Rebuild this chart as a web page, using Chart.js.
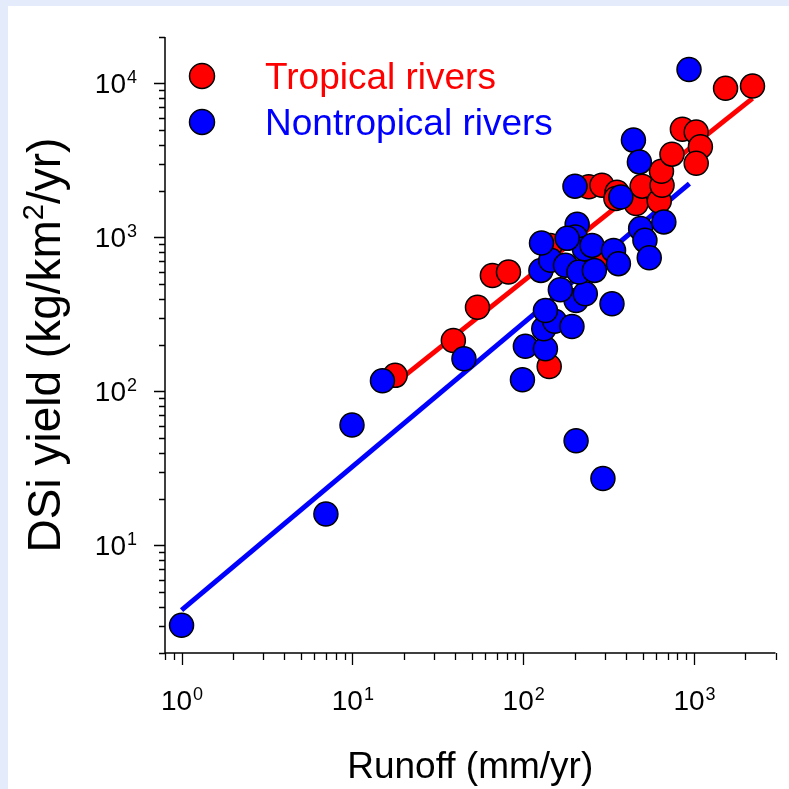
<!DOCTYPE html>
<html>
<head>
<meta charset="utf-8">
<title>DSi yield vs runoff</title>
<script src="https://cdn.jsdelivr.net/npm/chart.js@4.4.1/dist/chart.umd.min.js"></script>
<style>
  html, body { margin: 0; padding: 0; background: #e4ecfb; overflow: hidden; }
  canvas { display: block; }
</style>
</head>
<body>
<canvas id="chart" width="789" height="789"></canvas>
<script>
// values: runoff (mm/yr) and DSi yield (kg/km2/yr)
const tropicalRunoff = [17.8, 39, 54, 66, 82, 142, 144, 278, 242, 289, 354, 349, 458, 497, 626, 650, 645, 743, 855, 1030, 1090, 1030, 1530, 2200];
const tropicalYield = [127, 214, 352, 566, 595, 145, 887, 752, 2130, 2180, 1960, 1790, 1660, 2150, 1720, 2180, 2690, 3470, 5040, 4840, 3880, 3030, 9280, 9600];

const nontropicalRunoff = [1.0, 7.0, 9.95, 15, 45, 99, 103, 135, 132, 153, 193, 135, 204, 293, 204, 231, 331, 165, 127, 145, 177, 212, 261, 128, 207, 202, 228, 253, 338, 361, 201, 373, 442, 479, 935, 487, 516, 547, 666, 181];
const nontropicalYield = [3.03, 16.0, 60.4, 117, 163, 119, 196, 189, 255, 285, 264, 335, 47.8, 27.2, 389, 430, 370, 457, 610, 709, 658, 595, 610, 918, 1215, 1005, 844, 887, 823, 675, 2150, 1830, 4280, 3090, 12300, 1140, 956, 738, 1260, 985];

// fitted lines (end points)
const tropicalFitRunoff = [18, 2200];
const tropicalFitYield = [114, 7990];
const nontropicalFitRunoff = [1, 940];
const nontropicalFitYield = [3.8, 2236];

// axis ranges and labelled decades
const xRange = [0.8, 3000];
const yRange = [2, 20000];
const xMajor = [1, 10, 100, 1000];
const xExp = ['0', '1', '2', '3'];
const yMajor = [10, 100, 1000, 10000];
const yExp = ['1', '2', '3', '4'];

const seriesNames = ['Tropical rivers', 'Nontropical rivers'];
const seriesColors = ['#ff0000', '#0000ff'];

(function() {
  'use strict';

  const FONT = '"Liberation Sans", Arial, Helvetica, sans-serif';

  const toPoints = (xs, ys) => xs.map((v, i) => ({ x: v, y: ys[i] }));

  function logTicks(min, max) {
    const out = [];
    for (let e = -1; e <= 4; e++) {
      for (let m = 1; m <= 9; m++) {
        const v = m * Math.pow(10, e);
        if (v >= min * 0.999 && v <= max * 1.001) out.push({ v, major: m === 1 });
      }
    }
    return out;
  }

  // "10" with a raised exponent, returns total width
  function powerWidth(ctx, exp, big, small) {
    ctx.font = big + 'px ' + FONT;
    const w1 = ctx.measureText('10').width;
    ctx.font = small + 'px ' + FONT;
    return w1 + ctx.measureText(exp).width;
  }

  function drawPower(ctx, exp, x, base, big, small) {
    ctx.textAlign = 'left';
    ctx.textBaseline = 'alphabetic';
    ctx.font = big + 'px ' + FONT;
    ctx.fillText('10', x, base);
    const w1 = ctx.measureText('10').width;
    ctx.font = small + 'px ' + FONT;
    ctx.fillText(exp, x + w1 + 1, base - 10);
  }

  const framePlugin = {
    id: 'frame',
    beforeDraw(chart) {
      const ctx = chart.ctx;
      ctx.save();
      ctx.fillStyle = '#e4ecfb';
      ctx.fillRect(0, 0, chart.width, chart.height);
      ctx.fillStyle = '#ffffff';
      ctx.fillRect(8, 6, chart.width - 8, chart.height - 6);
      ctx.restore();
    },
    beforeDatasetsDraw(chart) {
      const { ctx, chartArea: a, scales: { x, y } } = chart;
      ctx.save();
      ctx.strokeStyle = '#000';
      ctx.lineWidth = 1.5;
      ctx.beginPath();
      ctx.moveTo(a.left, a.top);
      ctx.lineTo(a.left, a.bottom);
      ctx.lineTo(a.right, a.bottom);
      ctx.stroke();

      ctx.lineWidth = 1.3;
      ctx.beginPath();
      logTicks(xRange[0], xRange[1]).forEach(t => {
        const px = Math.round(x.getPixelForValue(t.v)) + 0.5;
        ctx.moveTo(px, a.bottom);
        ctx.lineTo(px, a.bottom + (t.major ? 12 : 7));
      });
      logTicks(yRange[0], yRange[1]).forEach(t => {
        const py = Math.round(y.getPixelForValue(t.v)) + 0.5;
        ctx.moveTo(a.left, py);
        ctx.lineTo(a.left - (t.major ? 11 : 6), py);
      });
      ctx.stroke();

      // tick labels
      ctx.fillStyle = '#000';
      xMajor.forEach((v, i) => {
        const px = x.getPixelForValue(v);
        const w = powerWidth(ctx, xExp[i], 28, 18);
        drawPower(ctx, xExp[i], px - w / 2, 710, 28, 18);
      });
      yMajor.forEach((v, i) => {
        const py = y.getPixelForValue(v);
        const w = powerWidth(ctx, yExp[i], 28, 18);
        drawPower(ctx, yExp[i], 136 - w, py + 10, 28, 18);
      });

      // axis titles
      ctx.font = '37px ' + FONT;
      ctx.textAlign = 'center';
      ctx.textBaseline = 'alphabetic';
      ctx.fillText('Runoff (mm/yr)', (a.left + a.right) / 2, 778);

      ctx.translate(60, (a.top + a.bottom) / 2);
      ctx.rotate(-Math.PI / 2);
      const parts = ['DSi yield (kg/km', '2', '/yr)'];
      const sizes = [46, 29, 46];
      const widths = parts.map((p, i) => {
        ctx.font = sizes[i] + 'px ' + FONT;
        return ctx.measureText(p).width;
      });
      let cx = -widths.reduce((s, w) => s + w, 0) / 2;
      ctx.textAlign = 'left';
      parts.forEach((p, i) => {
        ctx.font = sizes[i] + 'px ' + FONT;
        ctx.fillText(p, cx, i === 1 ? -17 : 0);
        cx += widths[i];
      });
      ctx.restore();
    },
    afterDraw(chart) {
      const ctx = chart.ctx;
      ctx.save();
      const rows = [76, 122];
      rows.forEach((cy, i) => {
        ctx.beginPath();
        ctx.arc(202, cy, 12.5, 0, Math.PI * 2);
        ctx.fillStyle = seriesColors[i];
        ctx.fill();
        ctx.lineWidth = 1.5;
        ctx.strokeStyle = '#000';
        ctx.stroke();
        ctx.font = '37px ' + FONT;
        ctx.textAlign = 'left';
        ctx.textBaseline = 'alphabetic';
        ctx.fillText(seriesNames[i], 265, cy + 13);
      });
      ctx.restore();
    }
  };

  const pointStyle = color => ({
    backgroundColor: color,
    borderColor: '#000',
    borderWidth: 1.5,
    pointRadius: 12,
    pointHoverRadius: 12,
    showLine: false
  });

  const lineStyle = color => ({
    borderColor: color,
    borderWidth: 5,
    pointRadius: 0,
    showLine: true,
    fill: false
  });

  new Chart(document.getElementById('chart'), {
    type: 'scatter',
    data: {
      datasets: [
        Object.assign({ label: seriesNames[1], data: toPoints(nontropicalRunoff, nontropicalYield), order: 0 }, pointStyle(seriesColors[1])),
        Object.assign({ label: seriesNames[0], data: toPoints(tropicalRunoff, tropicalYield), order: 1 }, pointStyle(seriesColors[0])),
        Object.assign({ label: 'Nontropical fit', data: toPoints(nontropicalFitRunoff, nontropicalFitYield), order: 2 }, lineStyle(seriesColors[1])),
        Object.assign({ label: 'Tropical fit', data: toPoints(tropicalFitRunoff, tropicalFitYield), order: 3 }, lineStyle(seriesColors[0]))
      ]
    },
    options: {
      responsive: false,
      animation: false,
      layout: { padding: { left: 165, top: 37, right: 9, bottom: 136 } },
      scales: {
        x: { type: 'logarithmic', min: xRange[0], max: xRange[1], display: false },
        y: { type: 'logarithmic', min: yRange[0], max: yRange[1], display: false }
      },
      plugins: {
        legend: { display: false },
        tooltip: { enabled: false }
      }
    },
    plugins: [framePlugin]
  });
})();
</script>
</body>
</html>
